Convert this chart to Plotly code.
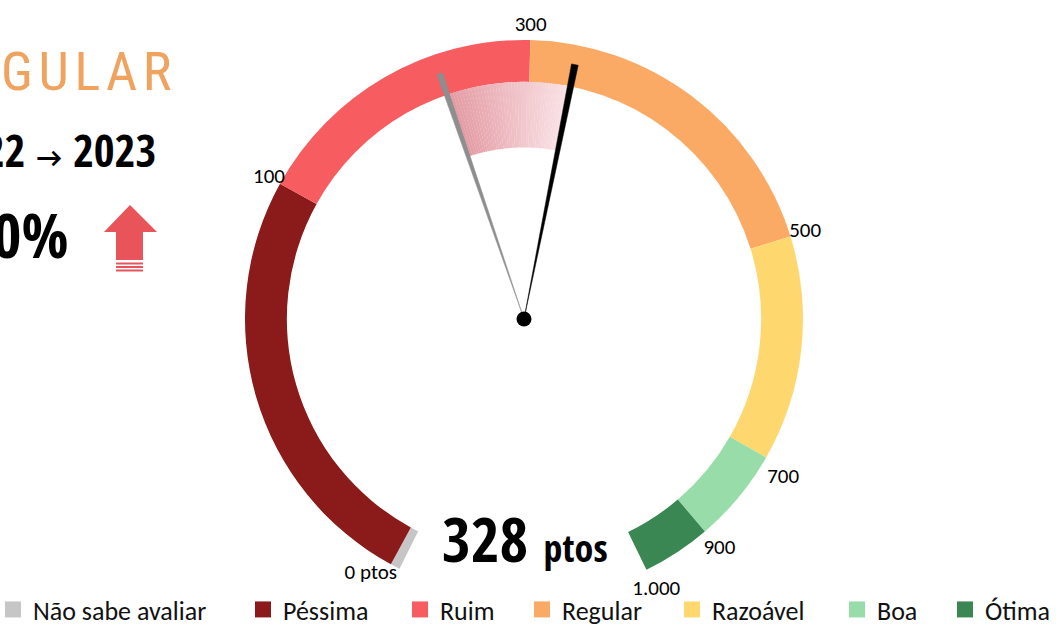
import numpy as np
import plotly.graph_objects as go

# ---------------- data ----------------
categories = ["Não sabe avaliar", "Péssima", "Ruim", "Regular", "Razoável", "Boa", "Ótima"]
shares_pct = [0.65, 29.43, 20.26, 23.25, 15.28, 6.44, 4.68]
colors = ["#C6C6C6", "#8B1A1A", "#F75C60", "#FBAA65", "#FFD76F", "#98DDA9", "#3A8753"]
tick_values = [0, 100, 300, 500, 700, 900, 1000]
tick_labels = ["0 ptos", "100", "300", "500", "700", "900", "1.000"]
score_current = 328
score_previous = 235
status_label = "R\u200aE\u200aG\u200aU\u200aL\u200aA\u200aR"
period_label = "2022 <span style='font-family:Carlito;font-size:28px'>→</span> 2023"
change_label = "40%"

# ---------------- geometry / style ----------------
W, H = 1056, 628
CX, CY, RPX = 524, 319, 279          # gauge centre and outer radius (px)
GAUGE_START = 206.5                  # degrees clockwise from top
GAUGE_SPAN = 307.5
R_OUT, R_IN, BAND_IN, R_MAX = 1.0, 0.85, 0.615, 1.10
NEEDLE_R = 0.93
label_r = [1.02, 1.045, 1.05, 1.055, 1.07, 1.08, 1.08]
label_pos = ["middle left", "middle center", "middle center", "middle center",
             "bottom center", "middle center", "middle center"]
legend_text_x = [33, 283, 440, 562, 712, 877, 985]   # px where each legend label starts
COND = "Open Sans Condensed, Roboto Condensed, DejaVu Sans Condensed, sans-serif"
COND_LIGHT = "Roboto Condensed, DejaVu Sans Condensed, sans-serif"
BODY = "Carlito, Lato, sans-serif"

widths = [s / 100 * GAUGE_SPAN for s in shares_pct]
starts = GAUGE_START + np.concatenate([[0], np.cumsum(widths)[:-1]])
centers = (starts + np.array(widths) / 2) % 360
bounds = [GAUGE_START] + list(GAUGE_START + np.cumsum(widths)[1:])


def val_to_angle(v):
    return float(np.interp(v, tick_values, bounds)) % 360


fig = go.Figure()

# ring segments
for name, c, w, th in zip(categories, colors, widths, centers):
    fig.add_trace(go.Barpolar(
        r=[R_OUT - R_IN], base=[R_IN], theta=[th], width=[w], name=name,
        marker=dict(color=c, line=dict(width=0)), showlegend=False, hoverinfo="name"))

# gradient wedge between previous and current score
a0 = float(np.interp(score_previous, tick_values, bounds))
a1 = float(np.interp(score_current, tick_values, bounds))
N = 40
c_left = np.array([228, 156, 164])
c_right = np.array([250, 226, 230])
step = (a1 - a0) / N
for i in range(N):
    t = i / (N - 1)
    col = (c_left * (1 - t) + c_right * t).astype(int)
    fig.add_trace(go.Barpolar(
        r=[R_IN - BAND_IN], base=[BAND_IN], theta=[(a0 + step * (i + 0.5)) % 360],
        width=[step * 1.08], marker=dict(color=f"rgb({col[0]},{col[1]},{col[2]})", line=dict(width=0)),
        showlegend=False, hoverinfo="skip"))


def needle(value, color, half):
    a = val_to_angle(value)
    return go.Scatterpolar(
        r=[0, NEEDLE_R, NEEDLE_R, 0], theta=[a, a - half, a + half, a],
        mode="lines", fill="toself", fillcolor=color, line=dict(color=color, width=0.5),
        showlegend=False, hoverinfo="skip")


fig.add_trace(needle(score_previous, "#8E8E8E", 0.65))
fig.add_trace(needle(score_current, "#000000", 0.75))
fig.add_trace(go.Scatterpolar(r=[0], theta=[0], mode="markers",
                              marker=dict(color="black", size=15), showlegend=False, hoverinfo="skip"))

# tick labels
fig.add_trace(go.Scatterpolar(
    r=label_r, theta=[b % 360 for b in bounds], mode="text", text=tick_labels,
    textposition=label_pos, textfont=dict(family=BODY, size=21, color="black"),
    showlegend=False, cliponaxis=False, hoverinfo="skip"))

# legend entries (square swatches), one legend per category
for k, (name, c) in enumerate(zip(categories, colors)):
    fig.add_trace(go.Scatterpolar(
        r=[None], theta=[None], mode="markers", name=name,
        marker=dict(symbol="square", size=16, color=c), showlegend=True,
        legend="legend" if k == 0 else f"legend{k + 1}", hoverinfo="skip"))

RF = RPX * R_MAX
dom_x = [(CX - RF) / W, (CX + RF) / W]
dom_y = [max(0, (H - CY - RF) / H), min(1, (H - CY + RF) / H)]

legend_common = dict(orientation="h", xanchor="left", y=-0.008, yanchor="bottom",
                     font=dict(family=BODY, size=26, color="#111"), itemwidth=30,
                     itemsizing="trace", bgcolor="rgba(0,0,0,0)", borderwidth=0)
legends = {}
for k, tx in enumerate(legend_text_x):
    key = "legend" if k == 0 else f"legend{k + 1}"
    legends[key] = dict(legend_common, x=(tx - 40) / W)

fig.update_layout(
    width=W, height=H, margin=dict(l=0, r=0, t=0, b=0, autoexpand=False),
    paper_bgcolor="white", plot_bgcolor="white",
    polar=dict(
        domain=dict(x=dom_x, y=dom_y), bgcolor="rgba(0,0,0,0)",
        radialaxis=dict(range=[0, R_MAX], visible=False),
        angularaxis=dict(rotation=90, direction="clockwise", visible=False),
        bargap=0),
    showlegend=True,
    **legends,
)


def px(x, y):
    return x / W, 1 - y / H


# left-hand texts (partially cut by the frame, as in the original)
for txt, x, y, size, col, fam in [
    (status_label, 173, 72, 54, "#F0A35E", COND_LIGHT),
    ("<b>" + period_label + "</b>", 158, 149, 45, "#000000", COND),
    ("<b>" + change_label + "</b>", 70, 234, 62, "#000000", COND),
]:
    xx, yy = px(x, y)
    fig.add_annotation(x=xx, y=yy, xref="paper", yref="paper", xanchor="right", yanchor="middle",
                       text=txt, showarrow=False, font=dict(family=fam, size=size, color=col))

# score text
xx, yy = px(525, 538)
fig.add_annotation(x=xx, y=yy, xref="paper", yref="paper", xanchor="center", yanchor="middle",
                   text=f"<b>{score_current}</b> <span style='font-size:38px'><b>ptos</b></span>",
                   showarrow=False, font=dict(family=COND, size=62, color="black"))

# red up arrow icon
pts = [(130, 205), (157, 232), (143, 232), (143, 260), (116, 260), (116, 232), (104, 232)]
path = "M " + " L ".join(f"{px(x, y)[0]},{px(x, y)[1]}" for x, y in pts) + " Z"
fig.add_shape(type="path", path=path, xref="paper", yref="paper",
              fillcolor="#E9545A", line=dict(width=0))
for yline in (263.5, 267, 270.5):
    x0, y0 = px(116, yline)
    x1, _ = px(143, yline)
    fig.add_shape(type="line", x0=x0, x1=x1, y0=y0, y1=y0, xref="paper", yref="paper",
                  line=dict(color="#E9545A", width=2))

fig.write_html("out.html", post_script="document.body.style.margin='0';",
               config={"displayModeBar": False})
